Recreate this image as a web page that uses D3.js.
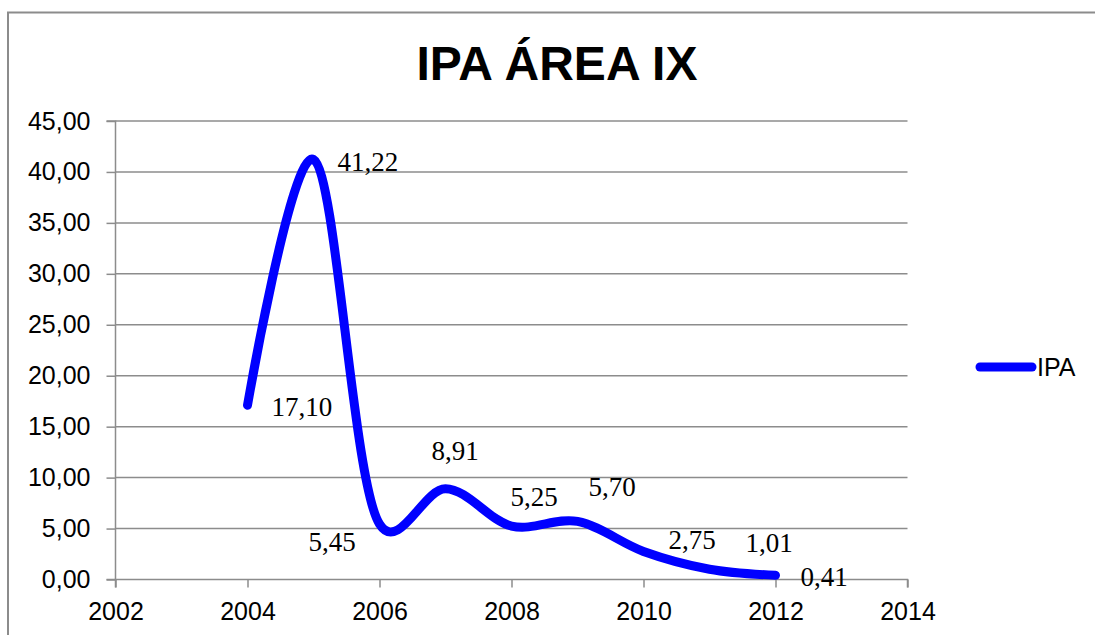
<!DOCTYPE html>
<html><head><meta charset="utf-8">
<script src="https://cdn.jsdelivr.net/npm/d3@7"></script>
<style>body{margin:0;background:#fff}svg{display:block}</style>
</head><body>
<svg id="c" width="1095" height="635"></svg>
<script>
const years = [2004, 2005, 2006, 2007, 2008, 2009, 2010, 2011, 2012];
const ipa = [17.10, 41.22, 5.45, 8.91, 5.25, 5.70, 2.75, 1.01, 0.41];
const yTicks = [0, 5, 10, 15, 20, 25, 30, 35, 40, 45];
const xTicks = [2002, 2004, 2006, 2008, 2010, 2012, 2014];
const seriesName = "IPA";
const title = "IPA ÁREA IX";
// label offsets (px) relative to each point
const labelOffsets = [[24,2],[24,2],[-71,18],[-14,-38],[-1,-29],[11,-34],[25,-11],[36,-26],[25,2]];

const svg = d3.select("#c");
const fmt = v => d3.format(".2f")(v).replace(".", ",");
const x = d3.scaleLinear().domain([2002, 2014]).range([115.5, 907.5]);
const y = d3.scaleLinear().domain([0, 45]).range([579.5, 121]);
const grid = "#8c8c8c";

// frame
svg.append("rect").attr("x", 8).attr("y", 12.5).attr("width", 1100).attr("height", 640)
  .attr("fill", "none").attr("stroke", "#8c8c8c").attr("stroke-width", 2);

svg.append("text").attr("x", 557).attr("y", 80).attr("text-anchor", "middle")
  .attr("font-family", "Liberation Sans, Arial, sans-serif").attr("font-weight", "bold")
  .attr("font-size", 48).text(title);

// gridlines
svg.append("g").selectAll("line").data(yTicks.slice(1)).join("line")
  .attr("x1", x(2002)).attr("x2", x(2014)).attr("y1", d => y(d)).attr("y2", d => y(d))
  .attr("stroke", grid).attr("stroke-width", 1.5);

const yAxis = svg.append("g").attr("transform", `translate(${x(2002)},0)`)
  .call(d3.axisLeft(y).tickValues(yTicks).tickFormat(fmt).tickSize(9).tickPadding(16));
const xAxis = svg.append("g").attr("transform", `translate(0,${y(0)})`)
  .call(d3.axisBottom(x).tickValues(xTicks).tickFormat(d3.format("d")).tickSize(8).tickPadding(15));
[yAxis, xAxis].forEach(a => {
  a.selectAll("path.domain").attr("stroke", grid).attr("stroke-width", 1.5);
  a.selectAll("line").attr("stroke", grid).attr("stroke-width", 1.5);
  a.selectAll("text").attr("font-family", "Liberation Sans, Arial, sans-serif")
    .attr("font-size", 25).attr("fill", "#000");
});
xAxis.select("path.domain").attr("d", `M${x(2002)},8V0H${x(2014)}V8`);
yAxis.select("path.domain").attr("d", `M-9,${y(45)}H0V${y(0)}H-9`);

const data = years.map((yr, i) => ({yr, v: ipa[i], o: labelOffsets[i]}));
const line = d3.line().x(d => x(d.yr)).y(d => y(d.v)).curve(d3.curveCatmullRom.alpha(0.2));
svg.append("path").datum(data).attr("d", line).attr("fill", "none")
  .attr("stroke", "#0000ff").attr("stroke-width", 9).attr("stroke-linecap", "round").attr("stroke-linejoin", "round");

svg.append("g").selectAll("text").data(data).join("text")
  .attr("x", d => x(d.yr) + d.o[0]).attr("y", d => y(d.v) + d.o[1])
  .attr("dominant-baseline", "central")
  .attr("font-family", "Liberation Serif, Cambria, serif").attr("font-size", 27)
  .attr("fill", "#000").text(d => fmt(d.v));

// legend
const lg = svg.append("g");
lg.append("line").attr("x1", 980).attr("x2", 1032).attr("y1", 367).attr("y2", 367)
  .attr("stroke", "#0000ff").attr("stroke-width", 9).attr("stroke-linecap", "round");
lg.append("text").attr("x", 1037).attr("y", 367).attr("dominant-baseline", "central")
  .attr("font-family", "Liberation Sans, Arial, sans-serif").attr("font-size", 25).text(seriesName);
</script>
</body></html>
